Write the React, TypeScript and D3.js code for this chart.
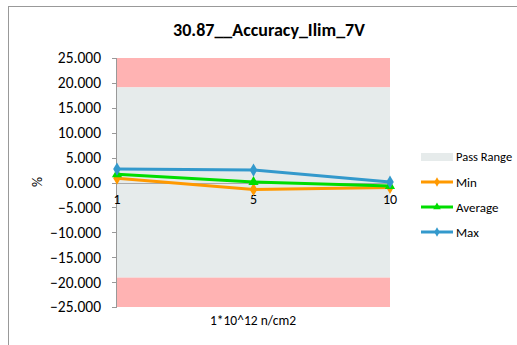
import React from "react";
import * as d3 from "d3";

const title = "30.87__Accuracy_Ilim_7V";
const categories = ["1", "5", "10"];
const minValues = [0.85, -1.4, -1.0];
const avgValues = [1.65, 0.1, -0.7];
const maxValues = [2.7, 2.5, 0.1];
const passLimit = 19.1;
const yMin = -25;
const yMax = 25;
const yTicks = [25, 20, 15, 10, 5, 0, -5, -10, -15, -20, -25];
const xTitle = "1*10^12 n/cm2";
const yTitle = "%";

const W = 517, H = 345;
const FONT = "Carlito, Calibri, Lato, sans-serif";

const series = [
  { name: "Min", values: minValues, color: "#FF9900", marker: "diamond" },
  { name: "Average", values: avgValues, color: "#00DD00", marker: "triangle" },
  { name: "Max", values: maxValues, color: "#3399CC", marker: "diamond" },
];

export default function App() {
  const left = 117, right = 390, top = 58, bottom = 307;
  const x = d3.scalePoint<string>().domain(categories).range([left, right]);
  const y = d3.scaleLinear().domain([yMin, yMax]).range([bottom, top]);
  const fmt = d3.format(".3f");
  const line = d3
    .line<number>()
    .x((_, i) => x(categories[i]) as number)
    .y((d) => y(d));
  const diamond = d3.symbol().type(d3.symbolDiamond).size(50)();
  const triangle = d3.symbol().type(d3.symbolTriangle).size(45)();
  const diamondS = d3.symbol().type(d3.symbolDiamond).size(25)();
  const triangleS = d3.symbol().type(d3.symbolTriangle).size(25)();

  const legendX = 421;
  const legendY = [157, 182, 207, 232];

  return (
    <svg
      width={W}
      height={H}
      style={{ position: "absolute", left: 0, top: 0, background: "#fff" }}
      fontFamily={FONT}
    >
      <rect x={8.5} y={6.5} width={W} height={H} fill="#fff" stroke="#999" />
      <text x={269} y={36} textAnchor="middle" fontSize={18} fontWeight="bold" fill="#000">
        {title}
      </text>
      <rect x={left} y={y(yMax)} width={right - left} height={y(passLimit) - y(yMax)} fill="#FFB3B3" />
      <rect x={left} y={y(passLimit)} width={right - left} height={y(-passLimit) - y(passLimit)} fill="#E6EBEB" />
      <rect x={left} y={y(-passLimit)} width={right - left} height={y(yMin) - y(-passLimit)} fill="#FFB3B3" />
      <line x1={left - 0.5} x2={left - 0.5} y1={top} y2={bottom} stroke="#999" />
      {yTicks.map((t) => (
        <g key={t}>
          <line x1={left - 5} x2={left} y1={Math.round(y(t)) + 0.5} y2={Math.round(y(t)) + 0.5} stroke="#999" />
          <text x={101} y={y(t)} dy="0.35em" textAnchor="end" fontSize={15.5} fill="#000">
            {fmt(t)}
          </text>
        </g>
      ))}
      <line x1={left} x2={right} y1={Math.round(y(0)) + 0.5} y2={Math.round(y(0)) + 0.5} stroke="#aaa" />
      {categories.map((c) => (
        <text key={c} x={x(c)} y={204} textAnchor="middle" fontSize={14} fill="#000">
          {c}
        </text>
      ))}
      {series.map((s) => (
        <g key={s.name}>
          <path d={line(s.values) || ""} fill="none" stroke={s.color} strokeWidth={3} />
          {s.values.map((v, i) => (
            <path
              key={i}
              d={s.marker === "diamond" ? diamond || "" : triangle || ""}
              transform={`translate(${x(categories[i])},${y(v)})`}
              fill={s.color}
            />
          ))}
        </g>
      ))}
      <text x={253} y={325} textAnchor="middle" fontSize={13.5} fill="#000">
        {xTitle}
      </text>
      <text transform={`translate(42,182) rotate(-90)`} textAnchor="middle" fontSize={14} fill="#000">
        {yTitle}
      </text>
      <rect x={legendX} y={legendY[0] - 4} width={32} height={8} fill="#E6EBEB" />
      <text x={456} y={legendY[0]} dy="0.35em" fontSize={12.5} fill="#000">Pass Range</text>
      {series.map((s, i) => (
        <g key={s.name}>
          <line x1={legendX} x2={legendX + 32} y1={legendY[i + 1]} y2={legendY[i + 1]} stroke={s.color} strokeWidth={3} />
          <path
            d={s.marker === "diamond" ? diamondS || "" : triangleS || ""}
            transform={`translate(${legendX + 16},${legendY[i + 1]})`}
            fill={s.color}
          />
          <text x={456} y={legendY[i + 1]} dy="0.35em" fontSize={13} fill="#000">
            {s.name}
          </text>
        </g>
      ))}
    </svg>
  );
}
